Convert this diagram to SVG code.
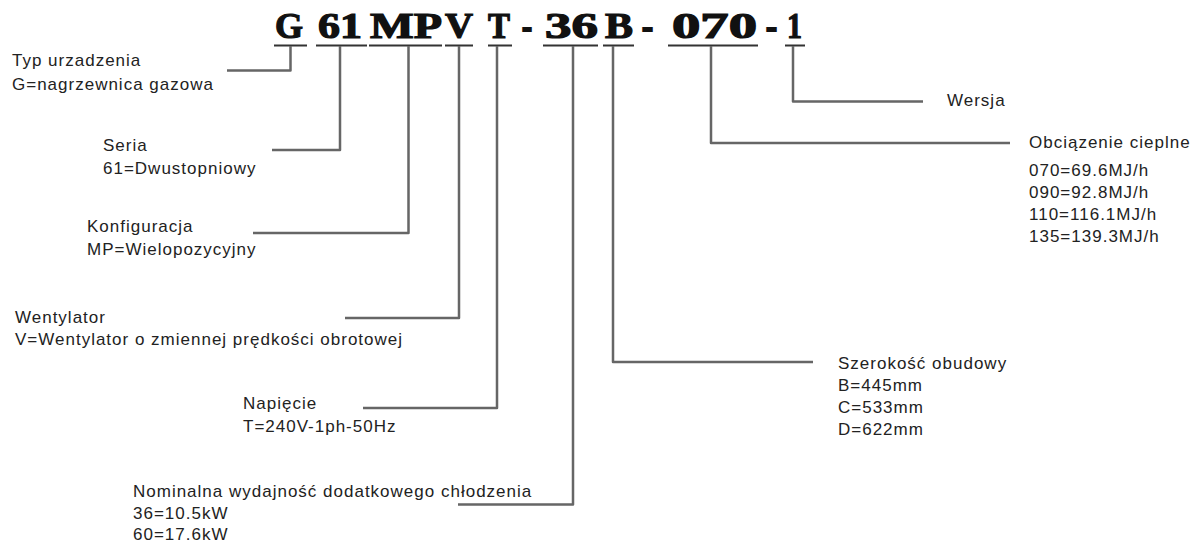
<svg xmlns="http://www.w3.org/2000/svg" width="1200" height="543" viewBox="0 0 1200 543">
<style>
.t{font-family:"Liberation Sans",Arial,sans-serif;font-size:17px;letter-spacing:1px;fill:#222}
.code{font-family:"Liberation Serif","Times New Roman",serif;font-size:35px;font-weight:bold;fill:#111;stroke:#111;stroke-width:1.2}
.dash{font-family:"Liberation Serif","Times New Roman",serif;font-size:35px;font-weight:bold;fill:#111;stroke:#111;stroke-width:2}
.ul{stroke:#333;stroke-width:2;fill:none}
.c{stroke:#666;stroke-width:2.5;fill:none;stroke-linejoin:round;stroke-linecap:butt}
</style>
<rect width="1200" height="543" fill="#fff"/>
<g id="code">
<text class="code" x="275" y="38" textLength="28" lengthAdjust="spacingAndGlyphs">G</text>
<text class="code" x="318" y="38" textLength="44" lengthAdjust="spacingAndGlyphs">61</text>
<text class="code" x="370" y="38" textLength="72" lengthAdjust="spacingAndGlyphs">MP</text>
<text class="code" x="445" y="38" textLength="28" lengthAdjust="spacingAndGlyphs">V</text>
<text class="code" x="488" y="38" textLength="22" lengthAdjust="spacingAndGlyphs">T</text>
<text class="dash" x="522" y="38" textLength="10" lengthAdjust="spacingAndGlyphs">-</text>
<text class="code" x="545" y="38" textLength="53" lengthAdjust="spacingAndGlyphs">36</text>
<text class="code" x="605" y="38" textLength="28" lengthAdjust="spacingAndGlyphs">B</text>
<text class="dash" x="642" y="38" textLength="11" lengthAdjust="spacingAndGlyphs">-</text>
<text class="code" x="672" y="38" textLength="85" lengthAdjust="spacingAndGlyphs">070</text>
<text class="dash" x="766" y="38" textLength="11" lengthAdjust="spacingAndGlyphs">-</text>
<text class="code" x="787" y="38" textLength="15" lengthAdjust="spacingAndGlyphs">1</text>
<path class="ul" d="M274 45.5H307M316 45.5H367M369 45.5H442M445 45.5H473M488 45.5H512M543 45.5H598M603 45.5H634M668 45.5H758M785 45.5H805"/>
</g>
<g id="connectors">
<path class="c" d="M290.5 46V70.5H227"/>
<path class="c" d="M340 46V150H272"/>
<path class="c" d="M408.5 46V233H253"/>
<path class="c" d="M459 46V318H345"/>
<path class="c" d="M497 46V408H363"/>
<path class="c" d="M573 46V504.5H458"/>
<path class="c" d="M613 46V362H813"/>
<path class="c" d="M711 46V143H1010"/>
<path class="c" d="M793 46V101.5H923"/>
</g>
<g id="typ"><text class="t" x="12" y="66">Typ urzadzenia</text><text class="t" x="12" y="90">G=nagrzewnica gazowa</text></g>
<g id="seria"><text class="t" x="103" y="151">Seria</text><text class="t" x="103" y="174">61=Dwustopniowy</text></g>
<g id="konfiguracja"><text class="t" x="87" y="232">Konfiguracja</text><text class="t" x="87" y="255">MP=Wielopozycyjny</text></g>
<g id="wentylator"><text class="t" x="15" y="323">Wentylator</text><text class="t" x="15" y="345">V=Wentylator o zmiennej prędkości obrotowej</text></g>
<g id="napiecie"><text class="t" x="243" y="409">Napięcie</text><text class="t" x="243" y="432">T=240V-1ph-50Hz</text></g>
<g id="nominalna"><text class="t" x="133" y="497">Nominalna wydajność dodatkowego chłodzenia</text><text class="t" x="133" y="519">36=10.5kW</text><text class="t" x="133" y="540">60=17.6kW</text></g>
<g id="szerokosc"><text class="t" x="838" y="369">Szerokość obudowy</text><text class="t" x="838" y="391">B=445mm</text><text class="t" x="838" y="413">C=533mm</text><text class="t" x="838" y="435">D=622mm</text></g>
<g id="obciazenie"><text class="t" x="1029" y="148">Obciązenie cieplne</text><text class="t" x="1029" y="176">070=69.6MJ/h</text><text class="t" x="1029" y="198">090=92.8MJ/h</text><text class="t" x="1029" y="220">110=116.1MJ/h</text><text class="t" x="1029" y="242">135=139.3MJ/h</text></g>
<g id="wersja"><text class="t" x="947" y="106">Wersja</text></g>
</svg>
